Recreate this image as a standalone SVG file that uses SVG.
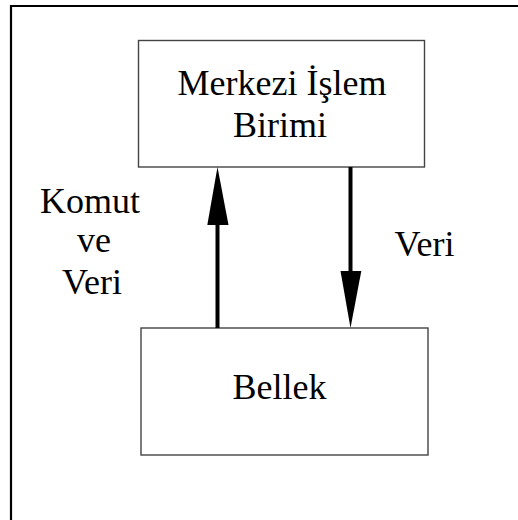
<svg xmlns="http://www.w3.org/2000/svg" width="518" height="520" viewBox="0 0 518 520">
<style>
.frame{fill:none;stroke:#000;stroke-width:2.2}
.box{fill:#fff;stroke:#444;stroke-width:1.4}
.lbl{font-family:"Liberation Serif","Times New Roman",serif;font-size:36px;fill:#000;text-anchor:middle}
.shaft{stroke:#000;stroke-width:4;fill:none}
.head{fill:#000;stroke:none}
</style>
<rect width="518" height="520" fill="#fff"/>
<path class="frame" d="M11,521 V6 H519"/>
<g id="cpu">
<rect class="box" x="138.5" y="40.5" width="286" height="126.5"/>
<text class="lbl" x="282" y="95">Merkezi İşlem</text>
<text class="lbl" x="280" y="136.5">Birimi</text>
</g>
<g id="memory">
<rect class="box" x="141" y="328" width="287" height="127"/>
<text class="lbl" x="279.5" y="399">Bellek</text>
</g>
<g id="connectors">
<line class="shaft" x1="217.5" y1="222" x2="217.5" y2="328"/>
<polygon class="head" points="217.5,167 207.3,225 228.5,225"/>
<line class="shaft" x1="350.5" y1="167" x2="350.5" y2="274"/>
<polygon class="head" points="340.5,271 361.3,271 350.5,328"/>
</g>
<g id="labels">
<text class="lbl" x="90" y="212.5">Komut</text>
<text class="lbl" x="94" y="251.5">ve</text>
<text class="lbl" x="92" y="294">Veri</text>
<text class="lbl" x="424.5" y="256">Veri</text>
</g>
</svg>
